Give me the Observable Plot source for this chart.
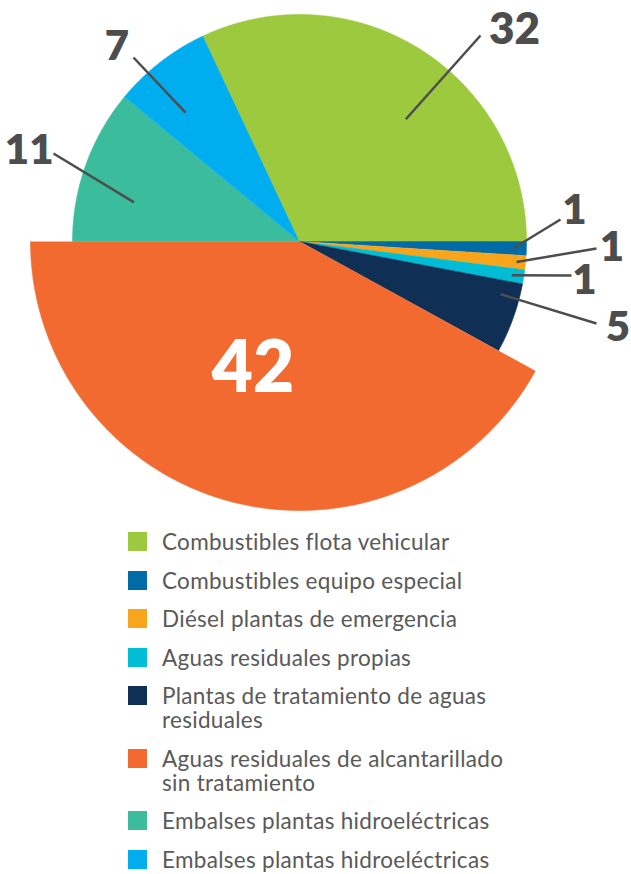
<!DOCTYPE html>
<html>
<head>
<meta charset="utf-8">
<script src="https://cdn.jsdelivr.net/npm/d3@7"></script>
<script src="https://cdn.jsdelivr.net/npm/@observablehq/plot@0.6"></script>
<style>
  html, body { margin: 0; padding: 0; background: #ffffff; }
  #wrap { width: 631px; height: 874px; overflow: hidden; position: relative; }
  #legend { position: absolute; left: 128px; top: 530px; width: 420px;
    font-family: Lato, "Open Sans", sans-serif; font-size: 22.5px; letter-spacing: 0.3px; line-height: 24px; color: #595959; }
  .item { display: flex; align-items: flex-start; margin-bottom: 14.5px; }
  .sw { width: 19px; height: 19px; flex: none; margin-top: 2px; margin-right: 15px; }
  .lab { width: 362px; }
</style>
</head>
<body>
<div id="wrap">
  <div id="chart"></div>
  <div id="legend"></div>
</div>
<script>
// ---- data ----
const categories = [
  "Combustibles flota vehicular",
  "Combustibles equipo especial",
  "Diésel plantas de emergencia",
  "Aguas residuales propias",
  "Plantas de tratamiento de aguas residuales",
  "Aguas residuales de alcantarillado sin tratamiento",
  "Embalses plantas hidroeléctricas",
  "Embalses plantas hidroeléctricas"
];
const values = [32, 1, 1, 1, 5, 42, 11, 7];
const valueLabels = ["32", "1", "1", "1", "5", "42", "11", "7"];
const colors = ["#9cc93d", "#006ba6", "#f9a51b", "#00bdd5", "#0f2f55", "#f26a30", "#3bbc9d", "#00aeef"];

// ---- layout (chart units = px, origin at pie centre, y up) ----
const R = 227;           // main radius
const explodedIndex = 5; // larger slice
const R2 = 269;
// leader lines: inner point (angle in degrees clockwise from top, or null = slice mid; radius), outer point, label centre
const leaders = [
  {a: 41,   r: 162, x2: 181,   y2: 206,   tx: 215,   ty: 212,   size: 44},
  {a: null, r: 214, x2: 261,   y2: 22,    tx: 275,   ty: 31,    size: 42},
  {a: null, r: 218, x2: 297,   y2: -7,    tx: 312.5, ty: -5.7,  size: 42},
  {a: null, r: 215, x2: 272,   y2: -34,   tx: 285,   ty: -39,   size: 42},
  {a: 104.7,r: 208, x2: 297,   y2: -82,   tx: 318.5, ty: -86.3, size: 42},
  null,
  {a: 283.3,r: 170, x2: -246,  y2: 88,    tx: -270.3,ty: 91,    size: 42},
  {a: 318.5,r: 172, x2: -166,  y2: 184,   tx: -182.5,ty: 194.5, size: 42}
];

// pie angles: rotate so that the exploded slice ends at 9 o'clock
const total = d3.sum(values);
const before = d3.sum(values.slice(0, explodedIndex + 1));
const start = 1.5 * Math.PI - (before / total) * 2 * Math.PI;
const arcs = d3.pie().sort(null).value(d => d).startAngle(start).endAngle(start + 2 * Math.PI)(values);

const pt = (a, r) => ({x: r * Math.sin(a), y: r * Math.cos(a)});

// slice polygons
const poly = [];
arcs.forEach((s, i) => {
  const r = i === explodedIndex ? R2 : R;
  const n = Math.max(4, Math.ceil((s.endAngle - s.startAngle) / (Math.PI / 720)));
  poly.push({key: i, color: colors[i], ...pt(0, 0)});
  for (let k = 0; k <= n; k++) {
    const a = s.startAngle + (s.endAngle - s.startAngle) * k / n;
    poly.push({key: i, color: colors[i], ...pt(a, r)});
  }
});

const leaderRows = [];
const labelRows = [];
arcs.forEach((s, i) => {
  const L = leaders[i];
  if (!L) return;
  const a = L.a == null ? (s.startAngle + s.endAngle) / 2 : L.a * Math.PI / 180;
  const p = pt(a, L.r);
  leaderRows.push({x1: p.x, y1: p.y, x2: L.x2, y2: L.y2});
  labelRows.push({x: L.tx, y: L.ty, text: valueLabels[i], size: L.size, fill: "#4d4d4d"});
});
// centred label of the exploded slice
const bigLabel = [{x: -46.5, y: -127.5, text: valueLabels[explodedIndex]}];

const chart = Plot.plot({
  width: 631,
  height: 520,
  margin: 0,
  x: {domain: [-299, 332], axis: null},
  y: {domain: [-279, 241], axis: null},
  color: {type: "identity"},
  style: {background: "transparent"},
  marks: [
    Plot.line(poly, {x: "x", y: "y", z: "key", fill: "color", stroke: "color", strokeWidth: 0.6, curve: "linear"}),
    Plot.link(leaderRows, {x1: "x1", y1: "y1", x2: "x2", y2: "y2", stroke: "#4d4d4d", strokeWidth: 2.5}),
    Plot.text(labelRows.filter(d => d.size === 44), {x: "x", y: "y", text: "text", fill: "#4d4d4d", fontSize: 44, fontWeight: 800, fontFamily: "Lato, sans-serif", textAnchor: "middle", lineAnchor: "middle"}),
    Plot.text(labelRows.filter(d => d.size === 42), {x: "x", y: "y", text: "text", fill: "#4d4d4d", fontSize: 42, fontWeight: 800, fontFamily: "Lato, sans-serif", textAnchor: "middle", lineAnchor: "middle"}),
    Plot.text(bigLabel, {x: "x", y: "y", text: "text", fill: "#ffffff", fontSize: 71, fontWeight: 800, fontFamily: "Lato, sans-serif", textAnchor: "middle", lineAnchor: "middle"})
  ]
});
document.getElementById("chart").appendChild(chart);

// legend
const legend = d3.select("#legend");
categories.forEach((c, i) => {
  const it = legend.append("div").attr("class", "item");
  it.append("div").attr("class", "sw").style("background", colors[i]);
  it.append("div").attr("class", "lab").text(c);
});
</script>
</body>
</html>
